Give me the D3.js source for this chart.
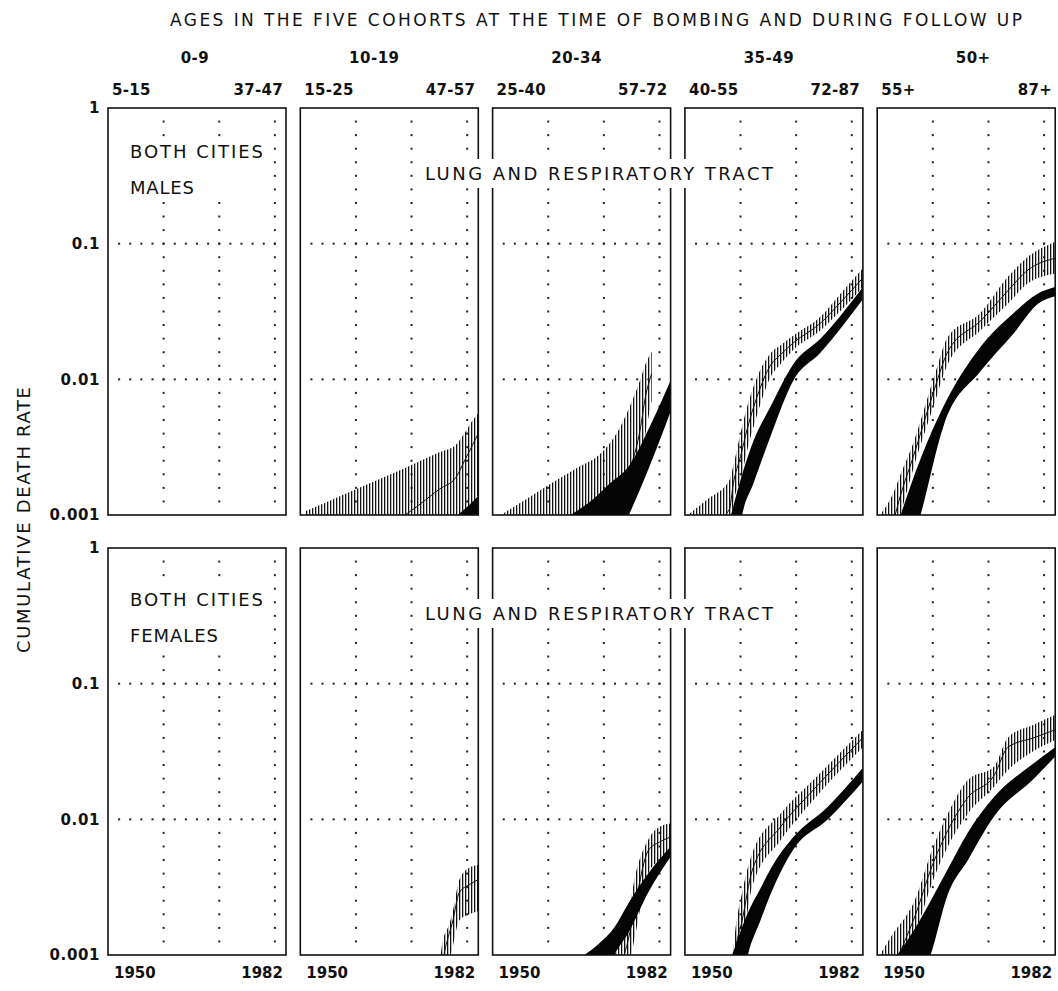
<!DOCTYPE html>
<html>
<head>
<meta charset="utf-8">
<script src="https://cdn.jsdelivr.net/npm/d3@7"></script>
<style>
  html, body { margin: 0; padding: 0; background: #fff; }
  svg { display: block; }
  text { font-family: "DejaVu Sans", sans-serif; fill: #111; }
  .num { font-weight: bold; }
</style>
</head>
<body>
<div id="chart"></div>
<script>
const W = 1058, H = 991;

// Cohorts (age at time of bombing) and ages at start / end of follow-up
const cohorts   = ["0-9", "10-19", "20-34", "35-49", "50+"];
const ageStart  = ["5-15", "15-25", "25-40", "40-55", "55+"];
const ageEnd    = ["37-47", "47-57", "57-72", "72-87", "87+"];
const sexes     = ["MALES", "FEMALES"];
const yTicks    = [1, 0.1, 0.01, 0.001];
const yTickText = ["1", "0.1", "0.01", "0.001"];
const yearRange = [1950, 1982];
const gridYears = [1960, 1970, 1980];
const gridRates = [0.1, 0.01];

// Males 10-19 : hatched band (low / mid / high) and solid band
const m10_years = [1951, 1955, 1960, 1965, 1970, 1975, 1978, 1979.5, 1981, 1982];
const m10_hi    = [0.00107, 0.00126, 0.00155, 0.0019, 0.00234, 0.0029, 0.0033, 0.0040, 0.0050, 0.0056];
const m10_mid   = [0.0003, 0.0004, 0.0006, 0.0008, 0.00108, 0.00155, 0.0019, 0.0025, 0.0033, 0.004];
const m10_lo    = [0.0002, 0.0002, 0.0002, 0.0003, 0.0003, 0.0004, 0.0006, 0.0009, 0.0012, 0.0014];
const m10_bYears = [1978.3, 1980, 1982];
const m10_bLo    = [0.0003, 0.0004, 0.0006];
const m10_bHi    = [0.001, 0.00115, 0.00138];

// Males 20-34
const m20_years = [1951.5, 1955, 1960, 1965, 1970, 1973, 1975, 1976.5, 1977.5, 1978.6];
const m20_hi    = [0.001, 0.00123, 0.00166, 0.0022, 0.003, 0.0045, 0.0068, 0.0098, 0.013, 0.016];
const m20_mid   = [0.0004, 0.0005, 0.0007, 0.001, 0.0014, 0.0018, 0.0024, 0.0042, 0.0075, 0.011];
const m20_lo    = [0.0002, 0.0002, 0.0003, 0.0005, 0.0008, 0.0011, 0.0014, 0.0022, 0.004, 0.007];
const m20_bYears = [1964, 1968, 1971, 1974.5, 1978.6, 1982];
const m20_bLo    = [0.0002, 0.0003, 0.0005, 0.001, 0.0025, 0.0058];
const m20_bHi    = [0.001, 0.0013, 0.0017, 0.0023, 0.0048, 0.0098];

// Males 35-49
const m35_years = [1950.5, 1954, 1958, 1958.7, 1960, 1961.2, 1963, 1965.4, 1967.2, 1969.5, 1974.4, 1978, 1982];
const m35_hi    = [0.001, 0.0013, 0.0018, 0.0023, 0.004, 0.0063, 0.0104, 0.0156, 0.0178, 0.021, 0.029, 0.043, 0.066];
const m35_mid   = [0.0006, 0.0008, 0.0011, 0.0017, 0.0027, 0.0043, 0.0075, 0.0127, 0.0152, 0.0186, 0.026, 0.037, 0.056];
const m35_lo    = [0.0004, 0.0005, 0.0007, 0.0012, 0.0018, 0.003, 0.0055, 0.0104, 0.013, 0.0165, 0.023, 0.032, 0.048];
const m35_bYears = [1958, 1960.3, 1962.3, 1965.4, 1969.5, 1974.4, 1982];
const m35_bLo    = [0.0002, 0.001, 0.0017, 0.0038, 0.0098, 0.0158, 0.039];
const m35_bHi    = [0.0009, 0.002, 0.0035, 0.0063, 0.013, 0.020, 0.048];

// Males 50+
const m50_years = [1950.5, 1952.9, 1954.2, 1956.5, 1960.1, 1962.7, 1968.6, 1973.5, 1977.1, 1982];
const m50_hi    = [0.001, 0.00145, 0.002, 0.0034, 0.010, 0.0205, 0.031, 0.057, 0.080, 0.103];
const m50_mid   = [0.0005, 0.0009, 0.0014, 0.0027, 0.008, 0.016, 0.027, 0.045, 0.064, 0.078];
const m50_lo    = [0.0003, 0.0006, 0.001, 0.0022, 0.0063, 0.013, 0.023, 0.036, 0.051, 0.060];
const m50_bYears = [1954.2, 1957.8, 1961.9, 1968.6, 1974.6, 1978.9, 1982];
const m50_bLo    = [0.0003, 0.001, 0.0045, 0.0115, 0.022, 0.036, 0.041];
const m50_bHi    = [0.001, 0.0026, 0.0063, 0.0174, 0.031, 0.043, 0.048];

// Females 10-19 (no solid band visible)
const f10_years = [1975.0, 1975.5, 1976.8, 1977.3, 1978.6, 1980.4, 1982];
const f10_hi    = [0.0008, 0.0012, 0.0017, 0.0020, 0.0036, 0.0044, 0.0046];
const f10_mid   = [0.0005, 0.0008, 0.00145, 0.0017, 0.0029, 0.0033, 0.0036];
const f10_lo    = [0.0003, 0.0005, 0.0009, 0.0011, 0.0018, 0.002, 0.0021];

// Females 20-34
const f20_years = [1971.9, 1974.4, 1975.5, 1978, 1980, 1982];
const f20_hi    = [0.001, 0.002, 0.0036, 0.0071, 0.0088, 0.0093];
const f20_mid   = [0.0007, 0.0013, 0.0022, 0.0059, 0.0068, 0.0074];
const f20_lo    = [0.0004, 0.0008, 0.0013, 0.004, 0.005, 0.0056];
const f20_bYears = [1966.5, 1969, 1971.9, 1974.4, 1978, 1982];
const f20_bLo    = [0.0003, 0.0005, 0.001, 0.00145, 0.0029, 0.0053];
const f20_bHi    = [0.001, 0.0012, 0.0016, 0.0024, 0.004, 0.0063];

// Females 35-49
const f35_years = [1958.5, 1959.0, 1960.3, 1962.1, 1967.2, 1973.1, 1982];
const f35_hi    = [0.0009, 0.00145, 0.0029, 0.0056, 0.011, 0.0195, 0.0457];
const f35_mid   = [0.0006, 0.001, 0.0018, 0.0042, 0.0088, 0.0165, 0.040];
const f35_lo    = [0.0003, 0.0006, 0.0011, 0.0032, 0.007, 0.0139, 0.034];
const f35_bYears = [1958.5, 1961.2, 1963.6, 1965.4, 1969.5, 1975.7, 1982];
const f35_bLo    = [0.0002, 0.00095, 0.0018, 0.0028, 0.006, 0.0100, 0.019];
const f35_bHi    = [0.001, 0.002, 0.0031, 0.0043, 0.0074, 0.0124, 0.024];

// Females 50+
const f50_years = [1950.5, 1952.9, 1955.4, 1956.5, 1960.1, 1962.7, 1966.3, 1971.0, 1973.5, 1978.2, 1982];
const f50_hi    = [0.001, 0.00145, 0.002, 0.0024, 0.0063, 0.011, 0.0195, 0.0245, 0.040, 0.050, 0.059];
const f50_mid   = [0.0005, 0.0008, 0.0014, 0.0018, 0.0048, 0.0083, 0.0145, 0.021, 0.034, 0.040, 0.0457];
const f50_lo    = [0.0003, 0.0005, 0.001, 0.0013, 0.0036, 0.0063, 0.011, 0.0174, 0.023, 0.032, 0.0385];
const f50_bYears = [1953.6, 1956.5, 1959.6, 1962.7, 1966.3, 1971.0, 1978.2, 1982];
const f50_bLo    = [0.0002, 0.0005, 0.001, 0.0028, 0.005, 0.0105, 0.020, 0.029];
const f50_bHi    = [0.001, 0.0015, 0.0025, 0.0043, 0.008, 0.0146, 0.026, 0.034];

/** Zips parallel arrays into row objects for d3 shapes. */
function band(years, lo, hi, mid) {
  return years.map((yr, i) => ({ yr, lo: lo[i], hi: hi[i], mid: mid ? mid[i] : null }));
}

const panelSeries = [
  { row: 0, col: 1, hatch: band(m10_years, m10_lo, m10_hi, m10_mid), solid: band(m10_bYears, m10_bLo, m10_bHi) },
  { row: 0, col: 2, hatch: band(m20_years, m20_lo, m20_hi, m20_mid), solid: band(m20_bYears, m20_bLo, m20_bHi) },
  { row: 0, col: 3, hatch: band(m35_years, m35_lo, m35_hi, m35_mid), solid: band(m35_bYears, m35_bLo, m35_bHi) },
  { row: 0, col: 4, hatch: band(m50_years, m50_lo, m50_hi, m50_mid), solid: band(m50_bYears, m50_bLo, m50_bHi) },
  { row: 1, col: 1, hatch: band(f10_years, f10_lo, f10_hi, f10_mid), solid: null },
  { row: 1, col: 2, hatch: band(f20_years, f20_lo, f20_hi, f20_mid), solid: band(f20_bYears, f20_bLo, f20_bHi) },
  { row: 1, col: 3, hatch: band(f35_years, f35_lo, f35_hi, f35_mid), solid: band(f35_bYears, f35_bLo, f35_bHi) },
  { row: 1, col: 4, hatch: band(f50_years, f50_lo, f50_hi, f50_mid), solid: band(f50_bYears, f50_bLo, f50_bHi) }
];

// Layout
const LEFT0 = 108, STEP = 192.3, PANEL_W = 178, PANEL_H = 407;
const ROW_TOP = [108, 548];
const cohortDx = [-2, -15, -5, -5, 7];
const dotYears = d3.range(1952, 1981, 2);
const dotRates = d3.range(1, 30).map(k => Math.pow(10, -k / 10));

const svg = d3.select("#chart").append("svg").attr("width", W).attr("height", H);
const defs = svg.append("defs");
defs.append("pattern").attr("id", "hatch")
  .attr("patternUnits", "userSpaceOnUse").attr("width", 3).attr("height", 8)
  .append("rect").attr("x", 0).attr("y", 0).attr("width", 1.3).attr("height", 8).attr("fill", "#111");

const panelsG = svg.append("g");
const labelsG = svg.append("g");

function xScale(col) {
  const l = LEFT0 + col * STEP;
  return d3.scaleLinear().domain(yearRange).range([l, l + PANEL_W]);
}
function yScale(row) {
  return d3.scaleLog().domain([0.001, 1]).range([ROW_TOP[row] + PANEL_H, ROW_TOP[row]]);
}

/** Draws one small multiple: dotted grid, hatched band with centre line, solid band, frame. */
function drawPanel(row, col) {
  const x = xScale(col), y = yScale(row);
  const [x0, x1] = x.range(), y0 = y(1), y1 = y(0.001);
  const g = panelsG.append("g");
  const clipId = `clip-${row}-${col}`;
  defs.append("clipPath").attr("id", clipId)
    .append("rect").attr("x", x0).attr("y", y0).attr("width", x1 - x0).attr("height", y1 - y0);

  const dots = [];
  gridYears.forEach(yr => dotRates.forEach(v => dots.push([x(yr), y(v)])));
  gridRates.forEach(v => dotYears.forEach(yr => dots.push([x(yr), y(v)])));
  g.selectAll("rect.dot").data(dots).join("rect").attr("class", "dot")
    .attr("x", d => d[0] - 1).attr("y", d => d[1] - 1)
    .attr("width", 2).attr("height", 2).attr("fill", "#222");

  const s = panelSeries.find(p => p.row === row && p.col === col);
  if (s) {
    const body = g.append("g").attr("clip-path", `url(#${clipId})`);
    const area = d3.area().x(d => x(d.yr)).y0(d => y(d.lo)).y1(d => y(d.hi)).curve(d3.curveMonotoneX);
    body.append("path").datum(s.hatch).attr("d", area).attr("fill", "url(#hatch)");
    body.append("path").datum(s.hatch)
      .attr("d", d3.line().x(d => x(d.yr)).y(d => y(d.mid)).curve(d3.curveMonotoneX))
      .attr("fill", "none").attr("stroke", "#111").attr("stroke-width", 1);
    if (s.solid) body.append("path").datum(s.solid).attr("d", area).attr("fill", "#050505");
  }

  g.append("rect").attr("x", x0).attr("y", y0).attr("width", x1 - x0).attr("height", y1 - y0)
    .attr("fill", "none").attr("stroke", "#111").attr("stroke-width", 1.6);
}

[0, 1].forEach(row => cohorts.forEach((c, col) => drawPanel(row, col)));

// Y tick labels
[0, 1].forEach(row => {
  const y = yScale(row);
  labelsG.selectAll(null).data(yTicks).join("text").attr("class", "num")
    .attr("x", 100).attr("y", d => y(d)).attr("dy", "0.36em")
    .attr("text-anchor", "end").attr("font-size", 15).attr("letter-spacing", 0.6)
    .text((d, i) => yTickText[i]);
});

// Year labels under bottom row
cohorts.forEach((c, col) => {
  const [a, b] = xScale(col).range();
  labelsG.append("text").attr("class", "num").attr("x", a + 6).attr("y", 978)
    .attr("font-size", 15).text(yearRange[0]);
  labelsG.append("text").attr("class", "num").attr("x", b - 3).attr("y", 978)
    .attr("text-anchor", "end").attr("font-size", 15).text(yearRange[1]);
});

// Cohort and follow-up age labels
cohorts.forEach((c, col) => {
  const [a, b] = xScale(col).range();
  labelsG.append("text").attr("class", "num").attr("x", (a + b) / 2 + cohortDx[col]).attr("y", 63)
    .attr("text-anchor", "middle").attr("font-size", 15).attr("letter-spacing", 0.5).text(c);
  labelsG.append("text").attr("class", "num").attr("x", a + 4).attr("y", 95)
    .attr("font-size", 15).attr("letter-spacing", 0.3).text(ageStart[col]);
  labelsG.append("text").attr("class", "num").attr("x", b - 3).attr("y", 95)
    .attr("text-anchor", "end").attr("font-size", 15).attr("letter-spacing", 0.3).text(ageEnd[col]);
});

// Header
labelsG.append("text").attr("x", 170).attr("y", 26).attr("font-size", 17)
  .attr("textLength", 852).attr("lengthAdjust", "spacing")
  .text("AGES IN THE FIVE COHORTS AT THE TIME OF BOMBING AND DURING FOLLOW UP");

// Y axis title
labelsG.append("text").attr("transform", "translate(24,520) rotate(-90)")
  .attr("text-anchor", "middle").attr("dy", "0.36em").attr("font-size", 18)
  .attr("textLength", 266).attr("lengthAdjust", "spacing")
  .text("CUMULATIVE DEATH RATE");

/** Places text lines over a white box that hides the grid and frames beneath. */
function boxedText(lines, pad) {
  const g = labelsG.append("g");
  lines.forEach(l => g.append("text").attr("x", l.x).attr("y", l.y).attr("font-size", 18)
    .attr("textLength", l.len).attr("lengthAdjust", "spacing").text(l.t));
  const bb = g.node().getBBox();
  g.insert("rect", ":first-child")
    .attr("x", bb.x - pad[0]).attr("y", bb.y - pad[1])
    .attr("width", bb.width + 2 * pad[0]).attr("height", bb.height + 2 * pad[1])
    .attr("fill", "#fff");
}

boxedText([{ t: "BOTH CITIES", x: 130, y: 158, len: 133 }, { t: sexes[0], x: 130, y: 194, len: 64 }], [5, 4]);
boxedText([{ t: "BOTH CITIES", x: 130, y: 606, len: 133 }, { t: sexes[1], x: 130, y: 642, len: 88 }], [5, 4]);
boxedText([{ t: "LUNG AND RESPIRATORY TRACT", x: 425, y: 180, len: 348 }], [7, 4]);
boxedText([{ t: "LUNG AND RESPIRATORY TRACT", x: 425, y: 620, len: 348 }], [7, 4]);
</script>
</body>
</html>
